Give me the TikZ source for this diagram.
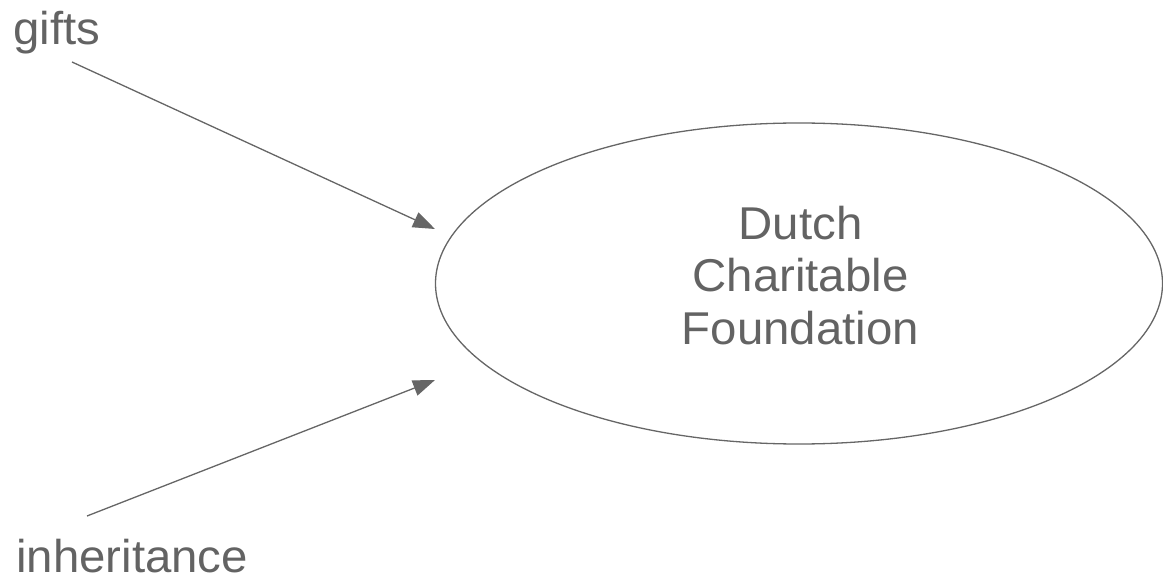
\documentclass[tikz,border=0pt]{standalone}
\usepackage{fontspec}
\setmainfont[FakeStretch=1.03]{Liberation Sans}
\usetikzlibrary{arrows.meta,shapes.geometric}
\definecolor{linegray}{HTML}{666666}
\definecolor{textgray}{HTML}{636363}
\tikzset{
  lbl/.style={inner sep=0pt, text=textgray, font=\fontsize{46}{52.5}\selectfont},
  conn/.style={draw=linegray, line width=1.3pt, -{Triangle[length=22pt,width=16pt]}, fill=linegray},
  bubble/.style={ellipse, draw=linegray, line width=1.3pt, inner sep=0pt}
}
\begin{document}
\begin{tikzpicture}[x=1pt,y=-1pt]
\useasboundingbox (0,0) rectangle (1163,577);
\node[bubble, minimum width=727pt, minimum height=321pt] (found) at (799,283.5) {};
\node[lbl, align=center] (ftext) at (800.5,275.4) {Dutch\\Charitable\\Foundation};
\node[lbl, anchor=base west] (gifts) at (13,45) {gifts};
\node[lbl, anchor=base west] (inher) at (16,572) {inheritance};
\coordinate (gs) at (72,62);
\coordinate (gt) at (435,229);
\coordinate (is) at (87,516);
\coordinate (it) at (435,380);
\draw[conn] (gs) -- (gt);
\draw[conn] (is) -- (it);
\end{tikzpicture}
\end{document}
